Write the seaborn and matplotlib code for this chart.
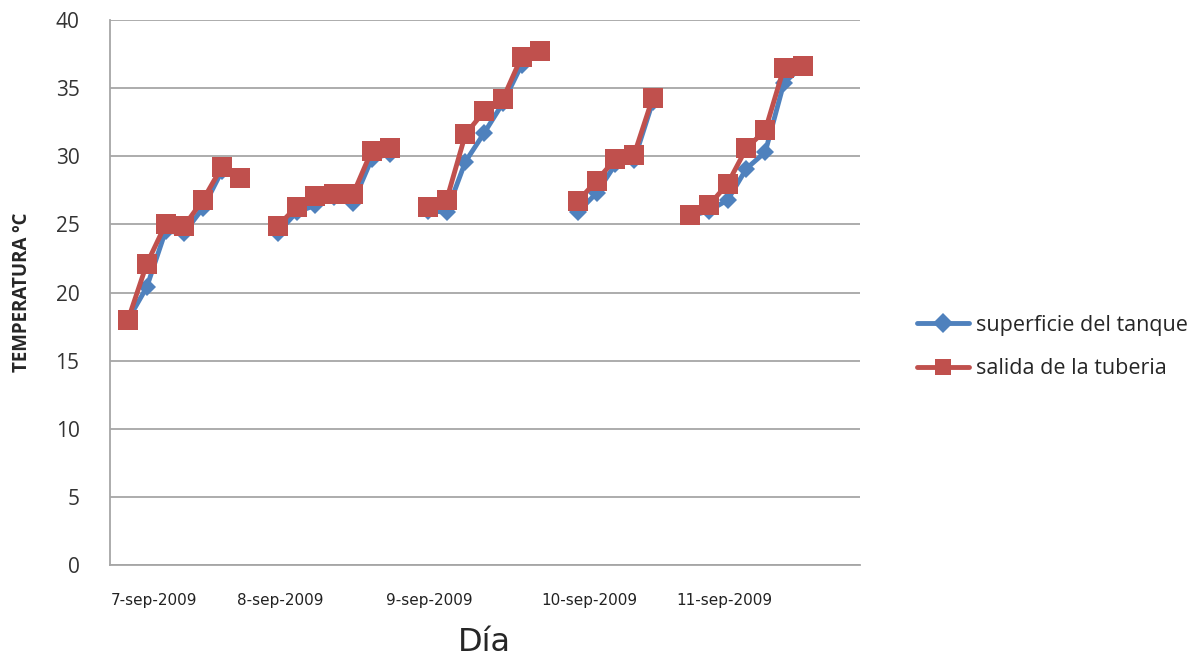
import numpy as np
import pandas as pd
import matplotlib
matplotlib.use('Agg')
import matplotlib.pyplot as plt
import seaborn as sns

# Lecturas por muestra (nan = hueco entre días)
nan = np.nan
superficie = [18.0, 20.4, 24.5, 24.4, 26.2, 28.9, 28.4, nan,
              24.4, 25.9, 26.4, 27.0, 26.6, 29.8, 30.2, nan,
              26.0, 25.9, 29.6, 31.7, 33.9, 36.7, 37.7, nan,
              25.9, 27.3, 29.4, 29.7, 34.0, nan,
              25.6, 26.0, 26.8, 29.1, 30.3, 35.4, 36.6]
salida = [18.0, 22.1, 25.0, 24.9, 26.8, 29.2, 28.4, nan,
          24.9, 26.3, 27.1, 27.2, 27.2, 30.4, 30.6, nan,
          26.3, 26.8, 31.6, 33.3, 34.2, 37.3, 37.7, nan,
          26.7, 28.2, 29.8, 30.1, 34.3, nan,
          25.7, 26.4, 28.0, 30.6, 31.9, 36.5, 36.6]
dias = ['7-sep-2009', '8-sep-2009', '9-sep-2009', '10-sep-2009', '11-sep-2009']
dias_pos = [1.4, 8.1, 16.1, 24.6, 31.8]

series = {'superficie del tanque': superficie, 'salida de la tuberia': salida}

# Pasamos a formato largo, con un grupo por cada día para cortar la línea
filas = []
for nombre, valores in series.items():
    grupo = 0
    for i, v in enumerate(valores):
        if np.isnan(v):
            grupo += 1
            continue
        filas.append({'muestra': i, 'temp': v, 'serie': nombre, 'grupo': grupo})
df = pd.DataFrame(filas)

sns.set_style('white')
plt.rcParams['font.family'] = ['Open Sans', 'DejaVu Sans']

fig = plt.figure(figsize=(12.04, 6.61), dpi=100)
ax = fig.add_axes([0.0914, 0.1452, 0.6226, 0.8245])

colores = {'superficie del tanque': '#4F81BD', 'salida de la tuberia': '#C0504D'}
marcadores = {'superficie del tanque': 'D', 'salida de la tuberia': 's'}
sns.lineplot(data=df, x='muestra', y='temp', hue='serie', style='serie',
             units='grupo', estimator=None, palette=colores,
             markers=marcadores, dashes=False, linewidth=3.5,
             markersize=13, markeredgewidth=0, ax=ax)

# Rombos más pequeños que los cuadrados
for ln in ax.lines:
    if ln.get_marker() == 'D':
        ln.set_markersize(9.5)
    elif ln.get_marker() == 's':
        ln.set_markersize(14)

ax.set_xlim(-0.96, 39.04)
ax.set_ylim(0, 40)
ax.set_yticks(range(0, 41, 5))
ax.yaxis.grid(True, color='#a6a6a6', linewidth=1.3)
ax.set_axisbelow(True)
for s in ['top', 'right']:
    ax.spines[s].set_visible(False)
for s in ['left', 'bottom']:
    ax.spines[s].set_color('#a6a6a6')
    ax.spines[s].set_linewidth(1.3)

ax.set_xticks(dias_pos)
ax.set_xticklabels(dias, fontsize=11, family='DejaVu Sans', color='#222222')
ax.tick_params(axis='x', length=0, pad=20)
ax.tick_params(axis='y', length=0, pad=22, labelsize=15, labelcolor='#333333')

ax.set_xlabel('Día', fontsize=23, family='DejaVu Sans', labelpad=14)
ax.set_ylabel('TEMPERATURA ºC', fontsize=13.5, fontweight='bold', labelpad=17)

sns.move_legend(ax, 'center left', bbox_to_anchor=(1.05, 0.40), frameon=False,
                title=None, fontsize=15.5, labelspacing=1.05, handlelength=2.45,
                handletextpad=0.3)
for h in ax.get_legend().legend_handles:
    h.set_markersize(10 if h.get_marker() == 'D' else 12)

plt.savefig('out.png', dpi=100)
